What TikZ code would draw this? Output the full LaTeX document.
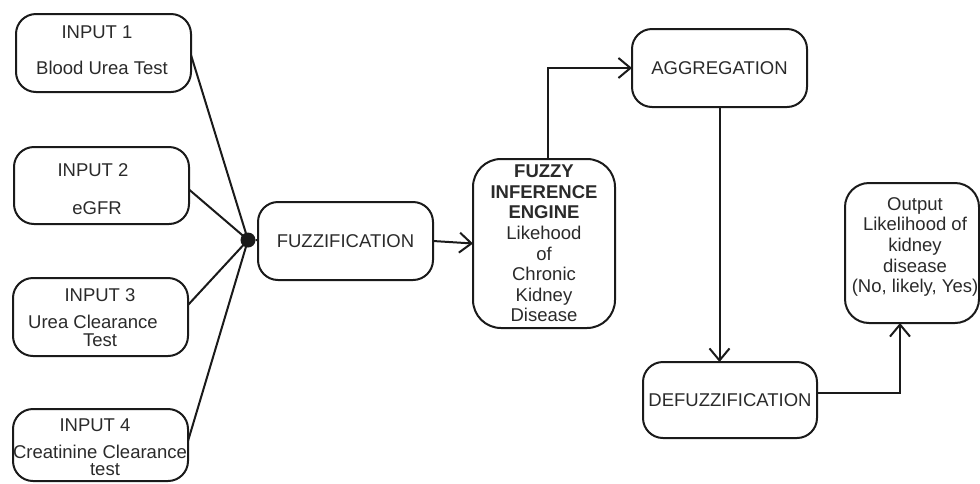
\documentclass[tikz,border=0pt]{standalone}
\usepackage{fontspec}
\setmainfont{Liberation Sans}
\usetikzlibrary{arrows.meta,calc}
\definecolor{ln}{HTML}{1A1A1A}
\definecolor{tx}{HTML}{2A2A2A}
\begin{document}
\begin{tikzpicture}[x=1pt,y=-1pt,
  box/.style={draw=ln, line width=2pt, rounded corners=20pt, inner sep=0pt, outer sep=0pt},
  txt/.style={inner sep=0pt, text=tx, font=\fontsize{18.5}{20.6}\selectfont, align=center},
  con/.style={draw=ln, line width=2pt},
  arr/.style={draw=ln, line width=2pt, -{Straight Barb[length=12pt,width=20pt,line width=2pt]}}]
\useasboundingbox (0,0) rectangle (980,483);
% input boxes
\node[box, minimum width=175pt, minimum height=78pt] (in1) at (103.5,53) {};
\node[box, minimum width=175pt, minimum height=77pt] (in2) at (101.5,185.5) {};
\node[box, minimum width=175pt, minimum height=78pt] (in3) at (100.5,317) {};
\node[box, minimum width=175pt, minimum height=72pt] (in4) at (100.5,445) {};
% input texts
\node[txt] (t1a) at (97,32) {INPUT 1};
\node[txt] (t1b) at (102,68) {Blood Urea Test};
\node[txt] (t2a) at (93,170) {INPUT 2};
\node[txt] (t2b) at (97,208) {eGFR};
\node[txt] (t3a) at (100,295) {INPUT 3};
\node[txt] (t3b) at (93,322) {Urea Clearance};
\node[txt] (t3c) at (100,340) {Test};
\node[txt] (t4a) at (95,425) {INPUT 4};
\node[txt] (t4b) at (100,452) {Creatinine Clearance};
\node[txt] (t4c) at (105,470) {test};
% junction
\node[circle, fill=ln, inner sep=0pt, minimum size=15pt] (dot) at (248,240) {};
\draw[con] ([yshift=-2pt]in1.east) -- (dot.center);
\draw[con] ([yshift=-4pt]in2.east) -- (dot.center);
\draw[con] ([yshift=12pt]in3.east) -- (dot.center);
\draw[con] ([yshift=4pt]in4.east) -- (dot.center);
% main chain
\node[box, txt, minimum width=175pt, minimum height=78pt] (fuzz) at (345.5,241) {FUZZIFICATION};
\draw[con] (dot) -- (fuzz);
\node[box, txt, rounded corners=28pt, minimum width=142pt, minimum height=169pt] (fie) at (544,243.5)
  {\textbf{FUZZY}\\\textbf{INFERENCE}\\\textbf{ENGINE}\\Likehood\\of\\Chronic\\Kidney\\Disease};
\node[box, txt, minimum width=175pt, minimum height=78pt] (agg) at (719.5,68) {AGGREGATION};
\node[box, txt, minimum width=174pt, minimum height=76pt] (defuzz) at (730,400) {DEFUZZIFICATION};
\node[box, rounded corners=24pt, minimum width=134pt, minimum height=140pt] (out) at (912,253) {};
\node[txt] (outtxt) at (915,247) {Output\\Likelihood of\\kidney\\disease\\(No, likely, Yes)};
\draw[arr] (fuzz.east) -- (fie.west);
\draw[arr] ([xshift=4pt]fie.north) |- (agg.west);
\draw[arr] (agg.south) -- (agg.south |- defuzz.north);
\draw[arr] ([yshift=7pt]defuzz.east) -| ([xshift=-12pt]out.south);
\end{tikzpicture}
\end{document}
